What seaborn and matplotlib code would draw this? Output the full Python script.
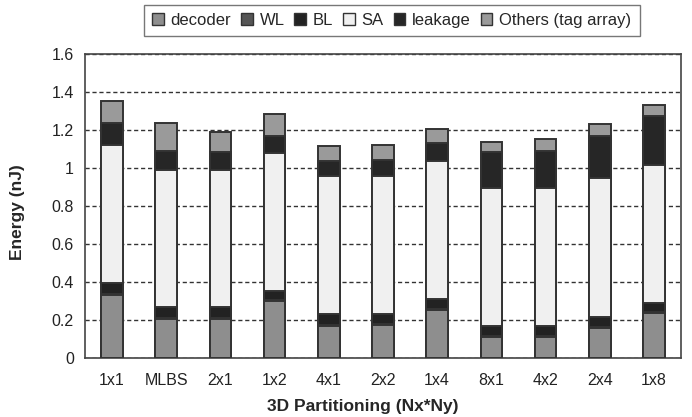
import numpy as np
import pandas as pd
import matplotlib
matplotlib.use("Agg")
import matplotlib.pyplot as plt
import seaborn as sns
from matplotlib.patches import Patch

categories = ["1x1", "MLBS", "2x1", "1x2", "4x1", "2x2", "1x4", "8x1", "4x2", "2x4", "1x8"]
decoder = [0.333, 0.207, 0.207, 0.298, 0.170, 0.175, 0.254, 0.109, 0.112, 0.159, 0.235]
wl = [0.005, 0.005, 0.005, 0.005, 0.005, 0.005, 0.005, 0.005, 0.005, 0.005, 0.005]
bl = [0.056, 0.054, 0.054, 0.047, 0.058, 0.053, 0.049, 0.052, 0.049, 0.053, 0.051]
sa = [0.726, 0.723, 0.723, 0.728, 0.723, 0.723, 0.728, 0.730, 0.730, 0.728, 0.723]
leakage = [0.119, 0.098, 0.093, 0.093, 0.080, 0.084, 0.093, 0.186, 0.194, 0.226, 0.261]
others = [0.114, 0.150, 0.105, 0.114, 0.079, 0.080, 0.075, 0.057, 0.065, 0.061, 0.056]

series_names = ["decoder", "WL", "BL", "SA", "leakage", "Others (tag array)"]
series_values = [decoder, wl, bl, sa, leakage, others]
series_colors = ["#8e8e8e", "#555555", "#222222", "#f0f0f0", "#262626", "#9a9a9a"]
yticks = [0, 0.2, 0.4, 0.6, 0.8, 1, 1.2, 1.4, 1.6]
ytick_labels = ["0", "0.2", "0.4", "0.6", "0.8", "1", "1.2", "1.4", "1.6"]

sns.set_style("white")
plt.rcParams["font.family"] = ["Liberation Sans", "DejaVu Sans"]

df = pd.DataFrame({"cat": categories})
cum = np.zeros(len(categories))
for name, vals in zip(series_names, series_values):
    cum = cum + np.array(vals)
    df[name] = cum.copy()

fig = plt.figure(figsize=(6.92, 4.17), dpi=100)
ax = fig.add_axes([0.1228, 0.1415, 0.8613, 0.729])

# stacked bars: draw cumulative totals from the top layer down
for name, color in reversed(list(zip(series_names, series_colors))):
    sns.barplot(data=df, x="cat", y=name, color=color, width=0.4,
                edgecolor="#333333", linewidth=1.4, saturation=1, ax=ax,
                zorder=3)

ax.set_ylim(0, 1.6)
ax.set_xlim(-0.5, len(categories) - 0.5)
ax.set_yticks(yticks)
ax.set_yticklabels(ytick_labels)
ax.yaxis.grid(True, linestyle=(0, (3, 2)), color="#333333", linewidth=1.0, zorder=0)
ax.set_axisbelow(True)

ax.tick_params(axis="y", length=0, labelsize=11.5, pad=8, colors="#222222")
ax.tick_params(axis="x", length=0, labelsize=11.5, pad=11, colors="#222222")
# small inward ticks between categories
ax.set_xticks(np.arange(0.5, len(categories) - 1, 1), minor=True)
ax.tick_params(axis="x", which="minor", direction="in", length=5, width=1.2, color="#333333")

for s in ax.spines.values():
    s.set_visible(True)
    s.set_color("#444444")
    s.set_linewidth(1.2)

ax.set_xlabel("3D Partitioning (Nx*Ny)", fontsize=12.5, fontweight="bold")
ax.xaxis.set_label_coords(0.466, -0.135)
ax.set_ylabel("Energy (nJ)", fontsize=12.5, fontweight="bold")
ax.yaxis.set_label_coords(-0.10, 0.48)

handles = [Patch(facecolor=c, edgecolor="#333333", linewidth=1.0, label=n)
           for n, c in zip(series_names, series_colors)]
leg = fig.legend(handles=handles, loc="center", bbox_to_anchor=(0.566, 0.951),
                 ncol=6, frameon=True, fancybox=False, fontsize=12,
                 handlelength=0.7, handleheight=0.7, handletextpad=0.4,
                 columnspacing=0.6, borderpad=0.5)
leg.get_frame().set_edgecolor("#555555")
leg.get_frame().set_linewidth(1.0)

fig.savefig("out.png", dpi=100)
